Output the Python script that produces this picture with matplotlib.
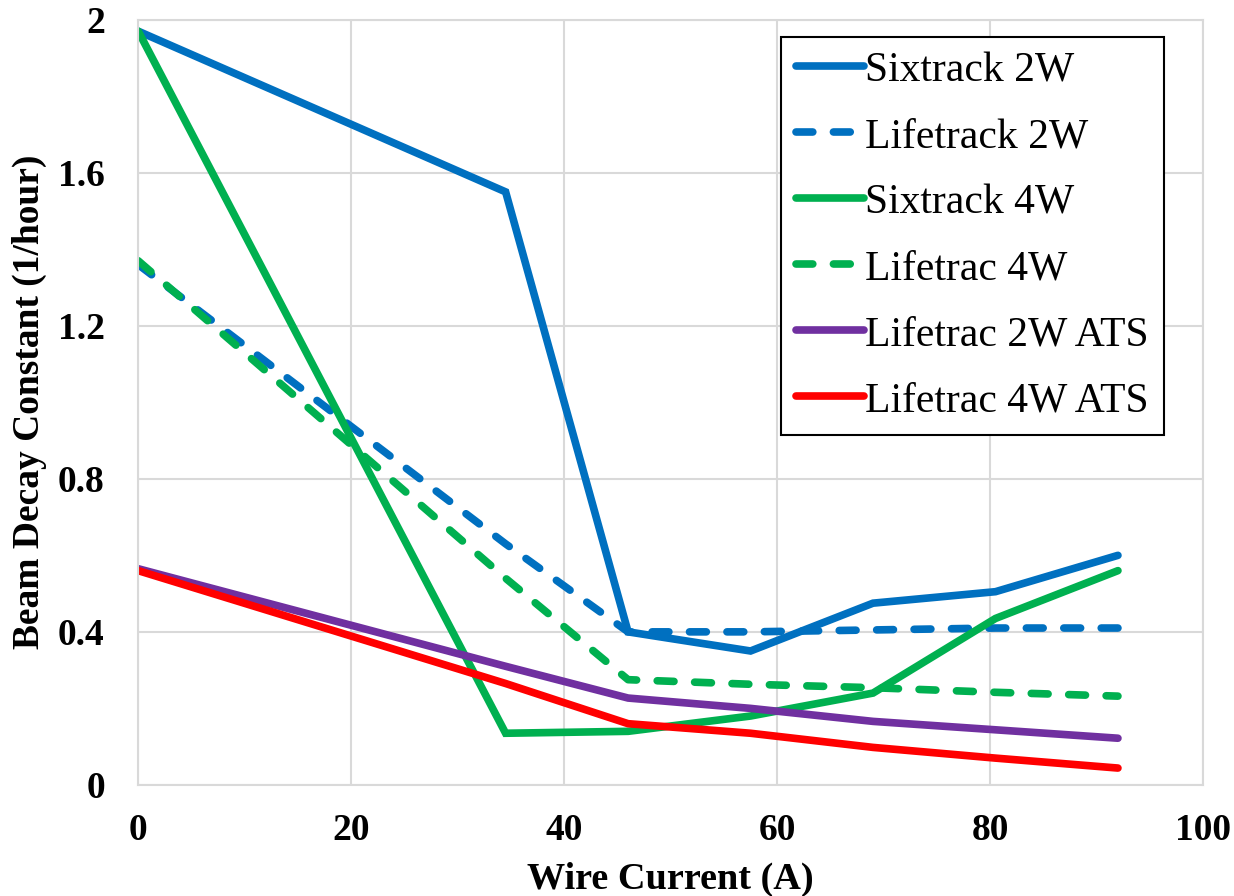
import matplotlib
matplotlib.use("Agg")
import matplotlib.pyplot as plt

# wire current (A) at which the decay constant was evaluated
current = [0, 34.5, 46, 57.5, 69, 80.5, 92]

# beam decay constant (1/hour) for each tracking run
sixtrack_2w = [1.97, 1.55, 0.40, 0.35, 0.475, 0.505, 0.60]
lifetrack_2w = [1.36, 0.63, 0.40, 0.40, 0.405, 0.41, 0.41]
sixtrack_4w = [1.97, 0.135, 0.14, 0.18, 0.24, 0.435, 0.56]
lifetrac_4w = [1.37, 0.54, 0.275, 0.263, 0.254, 0.242, 0.232]
lifetrac_2w_ats = [0.565, 0.31, 0.227, 0.20, 0.166, 0.144, 0.122]
lifetrac_4w_ats = [0.56, 0.265, 0.16, 0.135, 0.098, 0.07, 0.044]

x_ticks = [0, 20, 40, 60, 80, 100]
y_ticks = [0, 0.4, 0.8, 1.2, 1.6, 2.0]
y_tick_labels = ["0", "0.4", "0.8", "1.2", "1.6", "2"]

BLUE = "#0070C0"
GREEN = "#00B050"
PURPLE = "#7030A0"
RED = "#FF0000"

series = [
    ("Sixtrack 2W", sixtrack_2w, BLUE, "-"),
    ("Lifetrack 2W", lifetrack_2w, BLUE, "--"),
    ("Sixtrack 4W", sixtrack_4w, GREEN, "-"),
    ("Lifetrac 4W", lifetrac_4w, GREEN, "--"),
    ("Lifetrac 2W ATS", lifetrac_2w_ats, PURPLE, "-"),
    ("Lifetrac 4W ATS", lifetrac_4w_ats, RED, "-"),
]

plt.rcParams["font.family"] = ["Liberation Serif", "DejaVu Serif"]

fig = plt.figure(figsize=(12.34, 8.96), dpi=100)
ax = fig.add_axes([0.112, 0.124, 0.863, 0.854])

for label, values, color, style in series:
    line, = ax.plot(current, values, color=color, linestyle=style, linewidth=5.5,
                    label=label, solid_capstyle="round", dash_capstyle="round",
                    solid_joinstyle="miter")
    if style == "--":
        line.set_dashes((2.2, 2.7))

ax.set_xlim(0, 100)
ax.set_ylim(0, 2)
ax.set_xticks(x_ticks)
ax.set_yticks(y_ticks)
ax.set_yticklabels(y_tick_labels)
ax.tick_params(length=0, labelsize=27)
ax.tick_params(axis="x", pad=20)
ax.tick_params(axis="y", pad=24)
for lbl in ax.get_xticklabels() + ax.get_yticklabels():
    lbl.set_fontweight("bold")

ax.grid(True, color="#d9d9d9", linewidth=1.5)
ax.set_axisbelow(True)
for spine in ax.spines.values():
    spine.set_color("#d9d9d9")
    spine.set_linewidth(1.5)

ax.set_xlabel("Wire Current (A)", fontsize=27.5, fontweight="bold", labelpad=10)
ax.set_ylabel("Beam Decay Constant (1/hour)", fontsize=27, fontweight="bold", labelpad=8)

leg = ax.legend(loc="upper right", bbox_to_anchor=(0.963, 0.978), borderaxespad=0,
                fontsize=30, handlelength=1.63, handletextpad=0.02,
                labelspacing=0.66, borderpad=0.36, fancybox=False,
                framealpha=1, edgecolor="black")
leg.get_frame().set_linewidth(1.5)

fig.savefig("out.png", dpi=100)
